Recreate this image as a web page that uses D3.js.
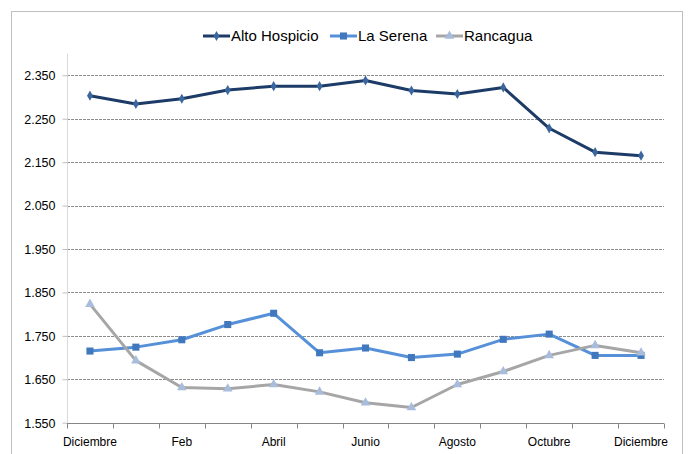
<!DOCTYPE html>
<html>
<head>
<meta charset="utf-8">
<script src="https://d3js.org/d3.v7.min.js"></script>
<style>
  body { margin: 0; background: #fff; }
  text { font-family: "Liberation Sans Narrow", "Arial Narrow", "Liberation Sans", sans-serif; fill: #000; }
</style>
</head>
<body>
<svg width="688" height="454"></svg>
<script>
// meses (eje x)
var meses = ['Diciembre', 'Enero', 'Feb', 'Marzo', 'Abril', 'Mayo', 'Junio',
             'Julio', 'Agosto', 'Septiembre', 'Octubre', 'Noviembre', 'Diciembre2'];
var etiquetas = ['Diciembre', '', 'Feb', '', 'Abril', '', 'Junio', '', 'Agosto', '', 'Octubre', '', 'Diciembre'];

var altoHospicio = [2.303, 2.284, 2.296, 2.316, 2.325, 2.325, 2.338, 2.315, 2.307, 2.322, 2.228, 2.173, 2.165];
var laSerena     = [1.715, 1.724, 1.741, 1.776, 1.802, 1.711, 1.722, 1.700, 1.708, 1.742, 1.754, 1.705, 1.705];
var rancagua     = [1.823, 1.693, 1.631, 1.628, 1.638, 1.621, 1.596, 1.585, 1.638, 1.668, 1.705, 1.728, 1.711];

var yTicks = [1.55, 1.65, 1.75, 1.85, 1.95, 2.05, 2.15, 2.25, 2.35];

var series = [
  {name: 'Alto Hospicio', values: altoHospicio, line: '#1c3b66', marker: '#3b679f', shape: d3.symbolDiamond, size: 30},
  {name: 'La Serena', values: laSerena, line: '#5690d8', marker: '#4178bd', shape: d3.symbolSquare, size: 50},
  {name: 'Rancagua', values: rancagua, line: '#a6a6a6', marker: '#a8bcdc', shape: d3.symbolTriangle, size: 40}
];

var svg = d3.select('svg');

// marco
svg.append('rect')
  .attr('x', 11.5).attr('y', 11.5)
  .attr('width', 671).attr('height', 460)
  .attr('fill', 'none').attr('stroke', '#bfbfbf');

var x = d3.scaleBand().domain(meses).range([67, 664]);
var y = d3.scaleLinear().domain([1.55, 2.40]).range([422.7, 53.6]);

// grilla
svg.append('g').selectAll('line')
  .data(yTicks.slice(1))
  .enter().append('line')
  .attr('x1', 67).attr('x2', 664)
  .attr('y1', function(d) { return Math.round(y(d)) + 0.5; })
  .attr('y2', function(d) { return Math.round(y(d)) + 0.5; })
  .attr('stroke', '#8c8c8c')
  .attr('stroke-dasharray', '3,1');

// eje y
var yAxis = svg.append('g')
  .attr('transform', 'translate(67.5,0)')
  .call(d3.axisLeft(y).tickValues(yTicks).tickSize(5).tickPadding(7)
        .tickFormat(function(d) { return d3.format('.3f')(d); }));
yAxis.select('.domain').attr('stroke', '#d9d9d9').attr('d', 'M0,' + y(2.40) + 'V' + y(1.55));
yAxis.selectAll('.tick line').attr('stroke', '#bfbfbf');
yAxis.selectAll('text').style('font-size', '12.5px').attr('dy', '0.35em')
  .style('font-family', '"Liberation Sans Narrow", "Liberation Sans", sans-serif');

// eje x
var xAxis = svg.append('g')
  .attr('transform', 'translate(0,' + (Math.round(y(1.55)) + 0.5) + ')');
xAxis.append('line')
  .attr('x1', 67).attr('x2', 664)
  .attr('stroke', '#868686');
var bordes = d3.range(meses.length + 1).map(function(i) { return 67 + i * x.step(); });
xAxis.selectAll('.tk').data(bordes).enter().append('line')
  .attr('x1', function(d) { return Math.round(d) + 0.5; })
  .attr('x2', function(d) { return Math.round(d) + 0.5; })
  .attr('y1', 0).attr('y2', 5)
  .attr('stroke', '#868686');
xAxis.selectAll('text').data(meses).enter().append('text')
  .attr('x', function(d) { return x(d) + x.bandwidth() / 2; })
  .attr('y', 22)
  .attr('text-anchor', 'middle')
  .style('font-size', '12px')
  .text(function(d, i) { return etiquetas[i]; });

// lineas
var linea = d3.line()
  .x(function(d, i) { return x(meses[i]) + x.bandwidth() / 2; })
  .y(function(d) { return y(d); });

series.forEach(function(s) {
  svg.append('path')
    .datum(s.values)
    .attr('d', linea)
    .attr('fill', 'none')
    .attr('stroke', s.line)
    .attr('stroke-width', 3)
    .attr('stroke-linejoin', 'round');
  svg.append('g').selectAll('path')
    .data(s.values)
    .enter().append('path')
    .attr('d', d3.symbol().type(s.shape).size(s.size))
    .attr('transform', function(d, i) {
      return 'translate(' + (x(meses[i]) + x.bandwidth() / 2) + ',' + y(d) + ')';
    })
    .attr('fill', s.marker);
});

// leyenda
var leyX = [203, 330, 436];
series.forEach(function(s, i) {
  var g = svg.append('g').attr('transform', 'translate(' + leyX[i] + ',36)');
  g.append('line').attr('x1', 0).attr('x2', 27).attr('stroke', s.line).attr('stroke-width', 3);
  g.append('path').attr('d', d3.symbol().type(s.shape).size(s.size))
    .attr('transform', 'translate(13.5,0)').attr('fill', s.marker);
  g.append('text').attr('x', 28).attr('dy', '0.35em')
    .style('font-size', '15px').text(s.name);
});
</script>
</body>
</html>
